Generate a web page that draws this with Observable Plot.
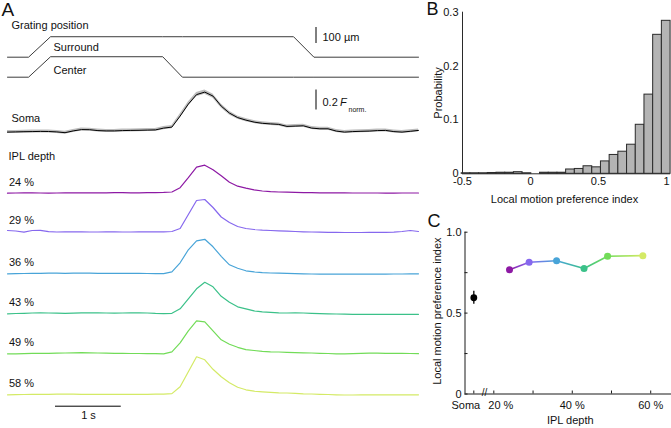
<!DOCTYPE html>
<html>
<head>
<meta charset="utf-8">
<script src="https://cdn.jsdelivr.net/npm/d3@7"></script>
<script src="https://cdn.jsdelivr.net/npm/@observablehq/plot@0.6"></script>
<style>
  body { margin: 0; background: #fff; }
  #fig { position: relative; width: 671px; height: 428px; overflow: hidden; background: #fff; }
</style>
</head>
<body>
<div id="fig"></div>
<script>
// ================= DATA =================
// Panel A: calcium traces, sampled every 0.125 s (51 samples, 0 – 6.25 s), values in F (norm.)
const sampleInterval = 0.125;
const traceDuration = 6.25;

const somaTrace = [0.0,0.002,0.004,0.005,0.007,0.006,0.002,-0.006,0.012,0.025,0.024,0.015,0.012,0.012,0.015,0.017,0.018,0.02,0.022,0.04,0.05,0.16,0.28,0.375,0.40,0.36,0.26,0.19,0.145,0.12,0.10,0.088,0.082,0.077,0.057,0.06,0.063,0.04,0.033,0.033,0.01,0.0,0.005,0.008,0.01,0.015,0.017,0.005,0.0,0.008,0.017];
const somaSem = [0.015,0.015,0.015,0.015,0.015,0.015,0.015,0.015,0.015,0.015,0.015,0.015,0.015,0.015,0.015,0.015,0.015,0.015,0.015,0.016,0.017,0.02,0.022,0.022,0.022,0.022,0.02,0.018,0.017,0.016,0.015,0.015,0.015,0.015,0.015,0.015,0.015,0.015,0.015,0.015,0.015,0.015,0.015,0.015,0.015,0.015,0.015,0.015,0.015,0.015,0.015];

const iplDepths = ["24 %", "29 %", "36 %", "43 %", "49 %", "58 %"];
const iplColors = ["#8d19a4", "#8668ee", "#48a4d8", "#3bc189", "#72dc58", "#d4ea66"];
const trace24 = [0,0.002,0.003,0.003,0.002,0.001,0.002,0.003,0.004,0.004,0.003,0.003,0.004,0.005,0.005,0.004,0.004,0.005,0.006,0.008,0.012,0.055,0.155,0.26,0.28,0.235,0.175,0.11,0.07,0.05,0.033,0.022,0.016,0.012,0.01,0.008,0.006,0.005,0.004,0.004,0.003,0.003,0.002,0.002,0.002,0.002,0.001,0.001,0.002,0.002,0.002];
const trace29 = [0.01,0.005,-0.006,0.01,0.012,-0.002,-0.005,-0.004,-0.003,-0.004,-0.005,-0.005,-0.004,-0.004,-0.005,-0.005,-0.004,-0.003,-0.004,-0.003,0.0,0.03,0.17,0.31,0.32,0.24,0.145,0.09,0.05,0.03,0.02,0.013,0.01,0.006,0.003,0.0,-0.003,-0.005,-0.007,-0.008,-0.009,-0.01,-0.01,-0.01,-0.009,-0.009,-0.008,-0.006,0.0,0.01,0.0];
const trace36 = [0,0.002,0.003,0.004,0.005,0.006,0.006,0.005,0.006,0.007,0.006,0.005,0.004,0.004,0.005,0.005,0.004,0.003,0.002,0.002,0.02,0.11,0.24,0.33,0.345,0.27,0.175,0.09,0.055,0.03,0.02,0.012,0.008,0.006,0.004,0.002,0.0,-0.002,-0.003,-0.004,-0.004,-0.003,-0.003,-0.002,-0.003,-0.004,-0.003,-0.002,-0.002,-0.001,0.0];
const trace43 = [0,0.003,0.005,0.008,0.01,0.008,0.006,0.005,0.007,0.009,0.01,0.009,0.008,0.007,0.008,0.01,0.01,0.008,0.004,0.002,0.005,0.05,0.15,0.25,0.315,0.27,0.175,0.115,0.07,0.05,0.03,0.02,0.015,0.01,0.008,0.01,0.008,0.005,0.002,0,-0.002,-0.004,-0.005,-0.005,-0.005,-0.006,-0.006,-0.006,-0.005,-0.005,-0.005];
const trace49 = [0,0.0,0.002,0.004,0.004,0.005,0.006,0.008,0.01,0.012,0.01,0.008,0.006,0.005,0.004,0.003,0.003,0.002,0.001,0.0,0.02,0.11,0.23,0.33,0.32,0.23,0.14,0.095,0.065,0.042,0.033,0.025,0.02,0.018,0.015,0.012,0.01,0.008,0.005,0.003,0.0,0.0,0.002,0.004,0.006,0.006,0.005,0.004,0.004,0.003,0.001];
const trace58 = [0,0.002,0.003,0.004,0.005,0.005,0.006,0.006,0.006,0.005,0.005,0.004,0.004,0.004,0.004,0.004,0.004,0.005,0.006,0.006,0.012,0.08,0.23,0.38,0.35,0.255,0.18,0.12,0.075,0.05,0.036,0.03,0.025,0.02,0.018,0.015,0.01,0.008,0.005,0.003,0.0,-0.002,-0.002,0.0,0.0,0.0,-0.001,0.0,0.0,0.0,0.0];
const iplTraces = [trace24, trace29, trace36, trace43, trace49, trace58];

// Grating position (µm) over time (s)
const gratingTimes = [0, 0.32, 0.655, 2.36, 2.66, 4.35, 4.66, 6.25];
const surroundPos = [0, 0, 128, 128, 128, 128, 0, 0];
const centerPos   = [0, 0, 128, 128, 0, 0, 0, 0];

// Panel B: histogram of local motion preference index
const histStart = -0.506;
const histBinWidth = 0.064;
const histProb = [0.001,0.001,0.001,0.0015,0.002,0.002,0.003,0.001,0.0,0.002,0.002,0.002,0.008,0.009,0.014,0.012,0.023,0.035,0.041,0.054,0.091,0.147,0.258,0.284];
const histXTicks = [-0.5, 0, 0.5, 1];
const histYTicks = [0, 0.1, 0.2, 0.3];

// Panel C: local motion preference index vs IPL depth
const cDepth = [24, 29, 36, 43, 49, 58];
const cIndex = [0.768, 0.814, 0.824, 0.776, 0.851, 0.855];
const somaIndex = 0.595;
const somaIndexErr = 0.04;
const cYTickLabels = [0, 0.5, 1];
const cYTickMarks = [0, 0.25, 0.5, 0.75, 1];
const cXTickMarks = [20, 30, 40, 50, 60];
const cXTickLabels = ["Soma", "20 %", "40 %", "60 %"];

// ================= LAYOUT =================
const FONT = "'Liberation Sans', Arial, Helvetica, sans-serif";
const TEXT = "#111";
const fig = document.getElementById("fig");
function place(el, left, top) {
  el.style.position = "absolute";
  el.style.left = left + "px";
  el.style.top = top + "px";
  fig.appendChild(el);
}

// ---------- Panel A ----------
const A_left = 7, A_pxPerSec = (418 - 7) / traceDuration;
const pxPerUnit = 100;         // 100 px per 1 F
const umUnit = 0.0016;         // units per µm
const rowSurround = 56.7, rowCenter = 76.7, rowSoma = 131.6;
const iplRows = [192.7, 231, 273.3, 313.3, 353.3, 394.3];
const off = row => -row / pxPerUnit;
const tx = px => (px - A_left) / A_pxPerSec;

const timeOf = i => i * sampleInterval;
const surroundData = gratingTimes.map((t, i) => ({ t, y: off(rowSurround) + surroundPos[i] * umUnit }));
const centerData = gratingTimes.map((t, i) => ({ t, y: off(rowCenter) + centerPos[i] * umUnit }));
const somaData = somaTrace.map((v, i) => ({ t: timeOf(i), y: off(rowSoma) + v, lo: off(rowSoma) + v - somaSem[i], hi: off(rowSoma) + v + somaSem[i] }));
const iplData = iplTraces.flatMap((tr, j) => tr.map((v, i) => ({ t: timeOf(i), y: off(iplRows[j]) + v, depth: iplDepths[j] })));

const barX = tx(315.5);
const fBarBottom = off(109.5);
const umBarBottom = off(43);
const sBarStart = tx(55), sBarRow = 405.7;

function label(text, px, row, opts = {}) {
  return Plot.text([text], { x: tx(px), y: off(row), text: d => d, textAnchor: "start", lineAnchor: "middle", fontSize: 11, fill: TEXT, ...opts });
}

const plotA = Plot.plot({
  width: 420, height: 428,
  marginLeft: A_left, marginRight: 2, marginTop: 0, marginBottom: 0,
  style: { fontFamily: FONT, fontSize: "11px", color: TEXT, background: "transparent" },
  x: { domain: [0, traceDuration], axis: null },
  y: { domain: [off(428), 0], axis: null },
  color: { domain: iplDepths, range: iplColors },
  marks: [
    Plot.line(surroundData, { x: "t", y: "y", stroke: "#3c3c3c", strokeWidth: 1 }),
    Plot.line(centerData, { x: "t", y: "y", stroke: "#3c3c3c", strokeWidth: 1 }),
    Plot.areaY(somaData, { x: "t", y1: "lo", y2: "hi", fill: "#bdbdbd" }),
    Plot.line(somaData, { x: "t", y: "y", stroke: "#000", strokeWidth: 1 }),
    Plot.line(iplData, { x: "t", y: "y", z: "depth", stroke: "depth", strokeWidth: 1.2 }),
    // scale bars
    Plot.ruleX([barX], { y1: umBarBottom, y2: umBarBottom + 100 * umUnit, stroke: "#000", strokeWidth: 1 }),
    Plot.ruleX([barX], { y1: fBarBottom, y2: fBarBottom + 0.2, stroke: "#000", strokeWidth: 1 }),
    Plot.ruleY([off(sBarRow)], { x1: sBarStart, x2: sBarStart + 1, stroke: "#000", strokeWidth: 1 }),
    // texts
    label("A", 1, 9.5, { fontSize: 19 }),
    label("Grating position", 11, 25),
    label("Surround", 53, 46.5),
    label("Center", 53, 70),
    label("100 µm", 322, 36.5),
    label("0.2", 322, 101.8),
    label("F", 339.5, 101.8, { fontStyle: "italic" }),
    label("norm.", 348, 109.5, { fontSize: 7 }),
    label("Soma", 11, 117.5),
    label("IPL depth", 8, 156),
    ...iplDepths.map((d, j) => label(d, 8.5, iplRows[j] - 11)),
    label("1 s", 88, 415, { textAnchor: "middle" })
  ]
});
place(plotA, 0, 0);

// ---------- Panel B ----------
const binData = histProb.map((p, k) => ({ x1: histStart + k * histBinWidth, x2: histStart + (k + 1) * histBinWidth, p }));
const histEnd = histStart + histProb.length * histBinWidth;
const plotB = Plot.plot({
  width: 251, height: 210,
  marginLeft: 42, marginRight: 5, marginTop: 11.7, marginBottom: 36.7,
  style: { fontFamily: FONT, fontSize: "11px", color: TEXT, background: "transparent" },
  x: { domain: [-0.5, 1], ticks: histXTicks, tickFormat: d => String(d), tickSize: 0, tickPadding: 3.5, label: null },
  y: { domain: [0, 0.3], ticks: histYTicks, tickFormat: d => String(d), tickSize: 0, tickPadding: 4, label: null },
  marks: [
    Plot.rectY(binData, { x1: "x1", x2: "x2", y: "p", fill: "#b4b4b4", stroke: "#2a2a2a", strokeWidth: 1 }),
    Plot.ruleY([0], { x1: histXTicks[0], x2: histEnd, stroke: "#2a2a2a", strokeWidth: 1 }),
    Plot.ruleX([histXTicks[0]], { y1: 0, y2: histYTicks[histYTicks.length - 1], stroke: "#2a2a2a", strokeWidth: 1 }),
    Plot.text(["Probability"], { frameAnchor: "left", dx: -24.5, rotate: -90, textAnchor: "middle", lineAnchor: "middle", fontSize: 11, fill: TEXT }),
    Plot.text(["Local motion preference index"], { frameAnchor: "bottom", dy: 26, textAnchor: "middle", lineAnchor: "middle", fontSize: 11, fill: TEXT }),
    Plot.text(["B"], { frameAnchor: "top-left", dx: -36, dy: -2.5, textAnchor: "start", lineAnchor: "middle", fontSize: 18, fill: TEXT })
  ]
});
place(plotB, 420, 0);

// ---------- Panel C ----------
const cXmin = 12.65, cXmax = 65.3;
const cPxPerUnitX = (251 - 44.5) / (cXmax - cXmin);
const cPxPerUnitY = 183.5 - 21.7;
const somaX = 14.9;      // position of the soma column on the axis
const breakX = 17.6;     // position of the axis break marks
const cLabelPos = [somaX, 20, 40, 60];
const cLabelShift = [-8, 7, 0, 0];
const cPoints = cDepth.map((d, i) => ({ depth: d, idx: cIndex[i], label: iplDepths[i] }));
const cSegments = cPoints.slice(0, -1).map((p, i) => ({ x1: p.depth, y1: p.idx, x2: cPoints[i + 1].depth, y2: cPoints[i + 1].idx, label: p.label }));

const plotC = Plot.plot({
  width: 251, height: 218,
  marginLeft: 44.5, marginRight: 0, marginTop: 21.7, marginBottom: 34.5,
  style: { fontFamily: FONT, fontSize: "11px", color: TEXT, background: "transparent" },
  x: { domain: [cXmin, cXmax], axis: null },
  y: { domain: [0, 1], ticks: cYTickLabels, tickFormat: d => (d === 1 ? "1.0" : String(d)), tickSize: 0, tickPadding: 3.5, label: null },
  color: { domain: iplDepths, range: iplColors },
  marks: [
    Plot.ruleY([0], { x1: cXmin, x2: cXmax, stroke: "#1a1a1a", strokeWidth: 1 }),
    Plot.ruleX([cXmin], { y1: 0, y2: 1, stroke: "#1a1a1a", strokeWidth: 1 }),
    Plot.ruleY(cYTickMarks, { x1: cXmin, x2: cXmin + 3 / cPxPerUnitX, stroke: "#1a1a1a", strokeWidth: 1 }),
    Plot.ruleX([somaX, ...cXTickMarks], { y1: 0, y2: 3 / cPxPerUnitY, stroke: "#1a1a1a", strokeWidth: 1 }),
    Plot.text(["//"], { x: breakX, y: 0, fontSize: 10, fill: TEXT, dy: -1 }),
    ...cXTickLabels.map((t, i) => Plot.text([t], { x: cLabelPos[i], y: 0, dx: cLabelShift[i], dy: 11.5, fontSize: 11, fill: TEXT })),
    Plot.ruleX([somaIndex], { x: somaX, y1: somaIndex - somaIndexErr, y2: somaIndex + somaIndexErr, stroke: "#000", strokeWidth: 1.3 }),
    Plot.dot([somaIndex], { x: somaX, y: d => d, r: 3.4, fill: "#000" }),
    Plot.link(cSegments, { x1: "x1", y1: "y1", x2: "x2", y2: "y2", stroke: "label", strokeWidth: 1.6 }),
    Plot.dot(cPoints, { x: "depth", y: "idx", fill: "label", r: 3.5 }),
    Plot.text(["Local motion preference index"], { frameAnchor: "left", dx: -27.8, dy: -2, rotate: -90, textAnchor: "middle", lineAnchor: "middle", fontSize: 11, fill: TEXT }),
    Plot.text(["IPL depth"], { frameAnchor: "bottom", dx: 2, dy: 26.5, textAnchor: "middle", lineAnchor: "middle", fontSize: 11, fill: TEXT }),
    Plot.text(["C"], { frameAnchor: "top-left", dx: -37.5, dy: -11, textAnchor: "start", lineAnchor: "middle", fontSize: 18, fill: TEXT })
  ]
});
place(plotC, 420, 210);

// gradient strokes between consecutive colored points in panel C
(function () {
  const ns = "http://www.w3.org/2000/svg";
  const defs = document.createElementNS(ns, "defs");
  plotC.insertBefore(defs, plotC.firstChild);
  const paths = plotC.querySelectorAll('g[aria-label="link"] path');
  paths.forEach((p, i) => {
    const nums = (p.getAttribute("d") || "").match(/-?\d*\.?\d+(?:e[-+]?\d+)?/gi);
    if (!nums || nums.length < 4) return;
    const v = nums.map(Number);
    const g = document.createElementNS(ns, "linearGradient");
    g.setAttribute("id", "cseg" + i);
    g.setAttribute("gradientUnits", "userSpaceOnUse");
    g.setAttribute("x1", v[0]); g.setAttribute("y1", v[1]);
    g.setAttribute("x2", v[v.length - 2]); g.setAttribute("y2", v[v.length - 1]);
    [[0, iplColors[i]], [1, iplColors[i + 1]]].forEach(([o, c]) => {
      const s = document.createElementNS(ns, "stop");
      s.setAttribute("offset", o);
      s.setAttribute("stop-color", c);
      g.appendChild(s);
    });
    defs.appendChild(g);
    p.setAttribute("stroke", `url(#cseg${i})`);
  });
})();
</script>
</body>
</html>
